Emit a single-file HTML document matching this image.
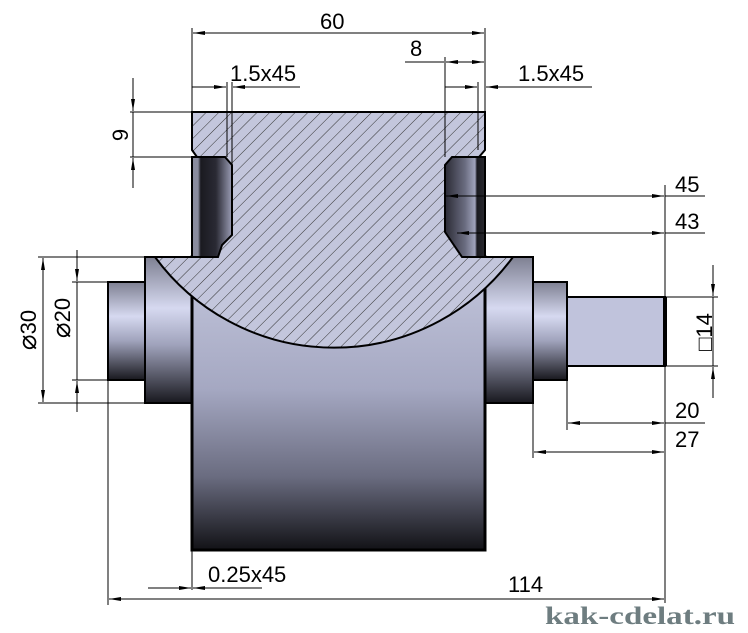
<!DOCTYPE html>
<html><head><meta charset="utf-8"><style>
html,body{margin:0;padding:0;background:#fff;width:748px;height:633px;overflow:hidden}
svg text{font-family:"Liberation Sans",Arial,sans-serif;font-size:22px;fill:#000}
</style></head><body>
<svg width="748" height="633" viewBox="0 0 748 633" xmlns="http://www.w3.org/2000/svg">
<defs>
<linearGradient id="drum" x1="0" y1="0" x2="0" y2="1">
<stop offset="0" stop-color="#c4c7dd"/><stop offset="0.45" stop-color="#a5a8c2"/>
<stop offset="0.75" stop-color="#6a6c80"/><stop offset="1" stop-color="#121216"/></linearGradient>
<linearGradient id="col" x1="0" y1="0" x2="0" y2="1">
<stop offset="0" stop-color="#7e8092"/><stop offset="0.35" stop-color="#d6d9f0"/>
<stop offset="0.6" stop-color="#a0a3bc"/><stop offset="1" stop-color="#18181e"/></linearGradient>
<linearGradient id="grvL" x1="0" y1="0" x2="1" y2="0">
<stop offset="0" stop-color="#8a8c9e"/><stop offset="0.15" stop-color="#8a8c9e"/><stop offset="0.22" stop-color="#1a1a20"/>
<stop offset="0.6" stop-color="#2a2a34"/><stop offset="1" stop-color="#9a9cb4"/></linearGradient>
<linearGradient id="grvR" x1="0" y1="0" x2="1" y2="0">
<stop offset="0" stop-color="#2a2a34"/><stop offset="0.5" stop-color="#6a6c80"/><stop offset="0.75" stop-color="#a0a3bc"/>
<stop offset="0.8" stop-color="#1a1a20"/><stop offset="1" stop-color="#2a2a30"/></linearGradient>
<pattern id="hatch" width="9" height="9" patternUnits="userSpaceOnUse" patternTransform="rotate(45)">
<rect width="9" height="9" fill="#c3c6dc"/><line x1="0" y1="0" x2="0" y2="9" stroke="#333" stroke-width="1"/></pattern>
<marker id="a" markerWidth="12" markerHeight="6" refX="12" refY="3" orient="auto" markerUnits="userSpaceOnUse">
<path d="M0,1 L12,3 L0,5 Z" fill="#000"/></marker>
</defs>

<rect x="145" y="257" width="47" height="146" fill="url(#col)" stroke="#000" stroke-width="2"/>
<rect x="485" y="257" width="48" height="146" fill="url(#col)" stroke="#000" stroke-width="2"/>
<rect x="108" y="282" width="37" height="98" fill="url(#col)" stroke="#000" stroke-width="2"/>
<rect x="533" y="282" width="34" height="98" fill="url(#col)" stroke="#000" stroke-width="2"/>
<rect x="567" y="297" width="98" height="69" fill="#c0c3dc" stroke="#000" stroke-width="2"/>
<line x1="665" y1="297" x2="665" y2="366" stroke="#000" stroke-width="4"/>
<rect x="192" y="257" width="293" height="293" fill="url(#drum)" stroke="#000" stroke-width="3"/>
<rect x="192" y="157" width="40" height="100" fill="url(#grvL)" stroke="#000" stroke-width="2"/>
<rect x="445" y="157" width="40" height="100" fill="url(#grvR)" stroke="#000" stroke-width="2"/>
<path d="M192,112 H485 V150 L479,157 H452 L445,165 V232 L462,257 H513 A222 222 0 0 1 155,257 H218 L222,245 L232,235 V165 L225,157 H197 L192,150 Z" fill="url(#hatch)" stroke="#000" stroke-width="2"/>

<g stroke="#000" stroke-width="1" fill="none">
<line x1="192" y1="28" x2="192" y2="112"/><line x1="485" y1="28" x2="485" y2="112"/>
<line x1="338" y1="33" x2="193" y2="33" marker-end="url(#a)"/><line x1="338" y1="33" x2="484" y2="33" marker-end="url(#a)"/>
<line x1="445" y1="57" x2="445" y2="157"/>
<line x1="405" y1="62" x2="444" y2="62"/><line x1="465" y1="62" x2="446" y2="62" marker-end="url(#a)"/><line x1="465" y1="62" x2="484" y2="62" marker-end="url(#a)"/>
<line x1="227" y1="82" x2="227" y2="157"/><line x1="232" y1="82" x2="232" y2="165"/>
<line x1="192" y1="87" x2="226" y2="87" marker-end="url(#a)"/><line x1="300" y1="87" x2="233" y2="87" marker-end="url(#a)"/>
<line x1="478" y1="82" x2="478" y2="150"/>
<line x1="445" y1="87" x2="477" y2="87" marker-end="url(#a)"/><line x1="592" y1="87" x2="486" y2="87" marker-end="url(#a)"/>
<line x1="130" y1="112" x2="192" y2="112"/><line x1="130" y1="157" x2="192" y2="157"/>
<line x1="133" y1="78" x2="133" y2="111" marker-end="url(#a)"/><line x1="133" y1="188" x2="133" y2="158" marker-end="url(#a)"/>
<line x1="133" y1="112" x2="133" y2="157"/>
<line x1="665" y1="185" x2="665" y2="603"/>
<line x1="560" y1="196" x2="446" y2="196" marker-end="url(#a)"/><line x1="560" y1="196" x2="664" y2="196" marker-end="url(#a)"/><line x1="665" y1="196" x2="705" y2="196"/>
<line x1="560" y1="233" x2="457" y2="233" marker-end="url(#a)"/><line x1="560" y1="233" x2="664" y2="233" marker-end="url(#a)"/><line x1="665" y1="233" x2="705" y2="233"/>
<line x1="665" y1="297" x2="718" y2="297"/><line x1="665" y1="366" x2="718" y2="366"/>
<line x1="713" y1="265" x2="713" y2="296" marker-end="url(#a)"/><line x1="713" y1="398" x2="713" y2="367" marker-end="url(#a)"/>
<line x1="713" y1="297" x2="713" y2="366"/>
<line x1="567" y1="380" x2="567" y2="430"/><line x1="533" y1="403" x2="533" y2="458"/>
<line x1="615" y1="423" x2="568" y2="423" marker-end="url(#a)"/><line x1="615" y1="423" x2="664" y2="423" marker-end="url(#a)"/><line x1="665" y1="423" x2="705" y2="423"/>
<line x1="600" y1="452" x2="534" y2="452" marker-end="url(#a)"/><line x1="600" y1="452" x2="664" y2="452" marker-end="url(#a)"/>
<line x1="108" y1="380" x2="108" y2="605"/>
<line x1="380" y1="599" x2="109" y2="599" marker-end="url(#a)"/><line x1="380" y1="599" x2="664" y2="599" marker-end="url(#a)"/>
<line x1="192" y1="550" x2="192" y2="590"/>
<line x1="148" y1="588" x2="191" y2="588" marker-end="url(#a)"/><line x1="262" y1="588" x2="193" y2="588" marker-end="url(#a)"/>
<line x1="38" y1="257" x2="145" y2="257"/><line x1="38" y1="403" x2="145" y2="403"/>
<line x1="43" y1="330" x2="43" y2="258" marker-end="url(#a)"/><line x1="43" y1="330" x2="43" y2="402" marker-end="url(#a)"/>
<line x1="72" y1="282" x2="108" y2="282"/><line x1="72" y1="380" x2="108" y2="380"/>
<line x1="77" y1="250" x2="77" y2="281" marker-end="url(#a)"/><line x1="77" y1="412" x2="77" y2="381" marker-end="url(#a)"/>
<line x1="77" y1="282" x2="77" y2="380"/>
</g>

<text x="320" y="29">60</text>
<text x="410" y="56">8</text>
<text x="230" y="81">1.5x45</text>
<text x="518" y="81">1.5x45</text>
<text x="675" y="192">45</text>
<text x="675" y="229">43</text>
<text x="675" y="418">20</text>
<text x="675" y="447">27</text>
<text x="508" y="592">114</text>
<text x="208" y="582">0.25x45</text>
<text transform="translate(128,135) rotate(-90)" text-anchor="middle">9</text>
<text transform="translate(712,332) rotate(-90)" text-anchor="middle">□14</text>
<text transform="translate(36,330) rotate(-90)" text-anchor="middle"><tspan style="font-size:26px">⌀</tspan>30</text>
<text transform="translate(70,318) rotate(-90)" text-anchor="middle"><tspan style="font-size:26px">⌀</tspan>20</text>
<text x="545" y="624" textLength="190" lengthAdjust="spacingAndGlyphs" style="font-family:'Liberation Serif',serif;font-weight:bold;font-size:25px;fill:#6e7d80">kak-cdelat.ru</text>
</svg>
</body></html>
